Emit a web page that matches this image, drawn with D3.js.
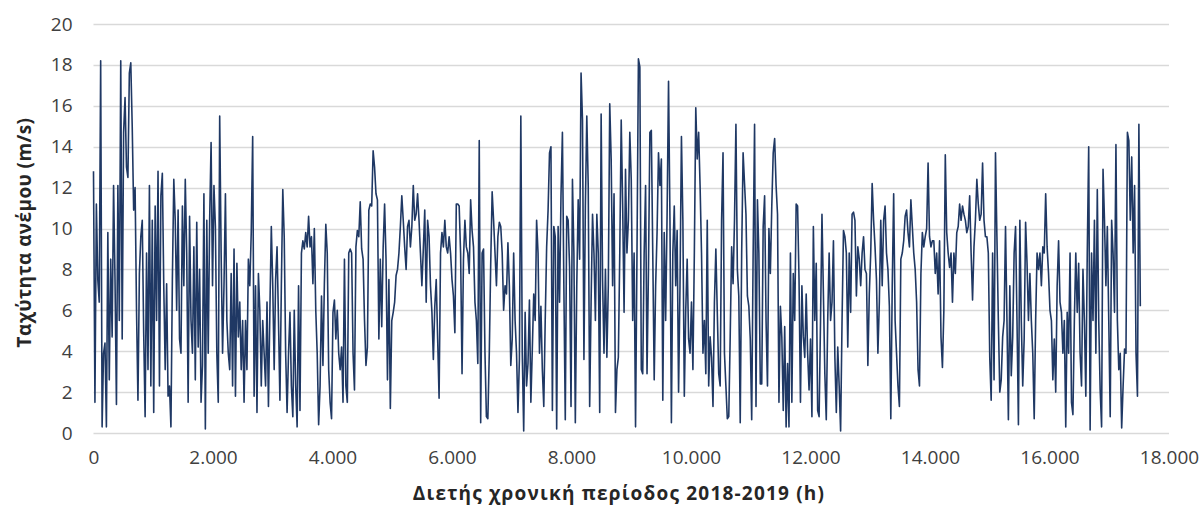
<!DOCTYPE html>
<html>
<head>
<meta charset="utf-8">
<script src="https://cdn.jsdelivr.net/npm/d3@7"></script>
<style>
  body { margin: 0; background: #ffffff; }
  svg { display: block; }
</style>
</head>
<body>
<svg id="chart" width="1204" height="505"></svg>
<script>
const STEP_H = 24;
const speedPart1 = [12.8, 1.5, 11.2, 7.5, 6.4, 18.2, 0.3, 3.9, 4.4, 0.3,
 9.8, 2.6, 8.5, 4.7, 12.1, 7.5, 1.4, 12.1, 5.5, 18.2,
 4.6, 14.7, 16.4, 13.0, 12.5, 17.6, 18.1, 15.0, 10.9, 12.0,
 6.0, 1.6, 7.8, 9.6, 10.4, 4.9, 0.8, 8.8, 3.1, 12.1,
 2.3, 10.4, 1.0, 11.1, 5.5, 12.8, 2.3, 11.6, 12.7, 7.2,
 3.1, 7.3, 1.8, 2.3, 0.3, 7.5, 12.4, 10.4, 6.0, 10.9,
 4.6, 3.9, 11.1, 7.2, 12.4, 8.8, 1.5, 10.6, 5.5, 3.9,
 9.1, 2.6, 10.3, 4.2, 8.0, 1.5, 3.3, 11.7, 0.2, 10.4,
 3.9, 10.4, 14.2, 7.2, 12.1, 10.1, 3.9, 1.5, 15.5, 8.8,
 3.9, 7.2, 11.7, 5.5, 3.9, 3.1, 7.8, 2.3, 9.0, 1.8,
 8.3, 4.7, 6.4, 3.1, 5.5, 1.5, 5.5, 3.1, 8.5, 7.2,
 9.8, 14.5, 1.8, 7.2, 1.0, 7.8, 6.0, 2.3, 5.5, 3.9,
 2.3, 6.4, 1.3, 6.0, 10.1, 7.2, 3.1, 7.5, 9.1, 5.5,
 1.6, 7.2, 11.9, 9.6, 3.9, 1.0, 3.9, 5.9, 2.3, 0.8,
 6.0, 2.3, 0.3, 7.2, 1.1, 8.8, 9.4];
const speedPart2 = [9.0, 9.8, 9.1, 10.6, 9.1, 9.6, 7.3, 10.0, 6.0, 3.9,
 0.4, 2.3, 6.7, 3.3, 7.3, 10.2, 8.8, 3.1, 1.5, 0.7,
 5.9, 6.5, 4.6, 6.0, 3.9, 3.1, 4.2, 1.5, 8.5, 2.3,
 1.5, 8.8, 9.0, 8.8, 3.9, 2.1, 9.1, 9.9, 9.6, 11.3,
 9.0, 8.5, 5.5, 3.3, 4.2, 10.9, 11.2, 11.1, 13.8, 13.0,
 11.7, 11.4, 4.6, 8.5, 5.2, 9.1, 11.2, 8.5, 2.6, 7.5,
 1.2, 5.5, 5.9, 6.4, 7.7, 8.0, 8.8, 10.1, 11.6, 10.4,
 9.1, 8.0, 10.1, 10.4, 9.1, 10.1, 12.1, 10.4, 10.7, 11.7,
 10.4, 8.8, 7.2, 9.0, 10.9, 6.4, 10.4, 9.6, 7.2, 5.9,
 3.6, 6.2, 7.5, 4.6, 1.7, 8.8, 9.8, 9.1, 10.4, 9.1,
 8.8, 9.6, 8.8, 7.5, 6.7, 4.9, 11.2, 11.2, 11.1, 8.8,
 2.9, 8.5, 10.4, 9.1, 8.8, 7.8, 11.4, 9.9, 9.1, 6.4,
 5.5, 3.4, 14.3, 0.5, 8.8, 9.0, 3.9, 0.8, 0.7, 3.9,
 8.3, 11.8, 10.4, 8.8, 7.2, 9.6, 10.3, 10.1, 8.8, 6.0,
 7.2, 6.8, 9.3, 7.2, 3.3, 4.6];
const speedPart3 = [8.8, 5.5, 3.9, 1.0, 3.6, 15.5, 3.9, 0.1, 5.9, 2.3,
 3.4, 6.5, 1.5, 4.1, 6.8, 5.5, 10.4, 8.8, 3.9, 6.2,
 3.1, 1.3, 5.5, 9.1, 10.9, 13.7, 14.0, 1.1, 10.1, 9.6,
 0.2, 10.1, 6.4, 11.6, 14.7, 7.2, 0.65, 10.6, 10.4, 8.1,
 1.3, 12.4, 8.8, 0.5, 7.2, 11.4, 8.5, 17.6, 15.3, 3.6,
 11.1, 15.5, 12.1, 1.3, 6.4, 10.7, 8.8, 5.5, 10.7, 8.8,
 1.0, 15.6, 7.5, 3.9, 8.0, 3.7, 7.2, 16.1, 13.4, 7.2,
 11.7, 1.0, 3.1, 3.7, 8.8, 15.3, 11.2, 5.9, 12.9, 8.8,
 10.4, 14.7, 12.4, 5.5, 8.8, 0.3, 8.8, 18.3, 17.9, 3.1,
 2.9, 8.8, 12.1, 2.9, 8.0, 14.7, 14.8, 8.8, 2.6, 7.2,
 9.8, 13.7, 12.1, 13.4, 1.6, 9.8, 5.5, 10.7, 17.2, 10.4,
 0.5, 8.8, 11.1, 7.2, 9.9, 2.0, 7.2, 14.5, 10.4, 1.8,
 6.0, 8.5, 4.6, 3.9, 6.4, 3.1, 8.8, 15.9, 13.4, 14.7,
 12.1, 8.8, 3.9, 5.5, 2.9, 10.4, 2.3, 4.7, 3.7, 1.3,
 6.4, 9.0, 5.9, 2.9, 2.3, 10.4, 13.7];
const speedPart4 = [3.9, 2.3, 0.7, 0.8, 4.7, 9.1, 7.3, 10.4, 15.1, 8.0,
 6.7, 0.5, 8.8, 13.7, 12.2, 10.7, 6.7, 6.2, 4.6, 0.65,
 8.8, 15.1, 1.3, 11.4, 8.8, 2.4, 2.4, 10.1, 11.6, 5.5,
 2.3, 10.0, 7.8, 11.1, 13.7, 14.4, 12.1, 10.7, 1.5, 6.2,
 4.7, 1.1, 5.2, 0.3, 3.4, 0.3, 8.8, 1.5, 7.8, 5.5,
 11.2, 11.1, 7.5, 1.5, 7.2, 4.7, 3.7, 6.8, 3.9, 2.1,
 4.6, 0.8, 10.1, 5.5, 8.3, 1.1, 0.8, 5.5, 10.7, 6.8,
 2.9, 0.65, 5.5, 8.8, 5.5, 6.4, 9.4, 3.7, 1.0, 4.2,
 2.3, 0.1, 5.5, 9.9, 9.6, 8.8, 4.2, 8.8, 5.9, 10.7,
 10.8, 10.4, 6.7, 9.1, 8.5, 7.2, 8.8, 9.6, 8.0, 7.8,
 3.3, 6.8, 8.8, 12.2, 10.4, 9.1, 7.5, 3.9, 6.4, 10.4,
 7.2, 10.4, 11.1, 8.8, 8.0, 6.2, 0.7, 7.2, 11.7, 5.5,
 3.9, 2.3, 1.3, 8.5, 8.8, 9.4, 10.6, 10.9, 9.8, 9.1,
 11.4, 10.1, 8.8, 8.0, 6.4, 3.1, 2.3, 7.8, 9.8, 9.1,
 9.6, 10.0, 13.2, 9.6, 9.1, 9.4];
const speedPart5 = [9.4, 7.8, 8.8, 6.8, 9.4, 4.7, 3.2, 6.0, 13.6, 9.8,
 8.8, 8.1, 8.8, 6.4, 8.8, 7.8, 9.8, 10.1, 11.2, 10.4,
 11.1, 10.7, 10.4, 9.8, 10.1, 11.6, 8.8, 6.5, 9.1, 10.4,
 12.4, 11.2, 10.4, 10.7, 13.2, 10.4, 9.6, 9.6, 8.8, 3.7,
 1.6, 8.8, 2.6, 13.7, 9.6, 5.5, 2.0, 2.6, 4.7, 5.5,
 10.1, 5.5, 0.65, 7.2, 2.8, 4.7, 8.8, 10.1, 5.5, 0.4,
 10.4, 5.5, 2.3, 4.6, 10.3, 8.3, 5.5, 7.8, 5.5, 3.9,
 0.7, 5.5, 8.8, 8.0, 8.8, 7.2, 9.1, 8.8, 11.7, 9.1,
 7.8, 6.0, 5.5, 2.6, 4.6, 2.0, 7.2, 9.4, 6.4, 5.9,
 3.9, 5.5, 0.3, 5.9, 3.9, 8.8, 1.5, 0.9, 5.5, 8.8,
 5.9, 8.3, 3.9, 2.3, 8.0, 5.5, 1.8, 8.8, 14.0, 0.15,
 8.8, 5.5, 10.4, 3.9, 11.9, 5.5, 2.1, 0.3, 12.9, 10.4,
 7.2, 10.1, 5.5, 0.8, 10.4, 8.8, 5.9, 14.1, 5.5, 3.1,
 3.9, 0.25, 2.3, 4.1, 3.9, 14.7, 14.3, 10.4, 13.5, 8.8,
 12.1, 3.9, 1.8, 15.1, 6.2];

const xTicks = [0, 2000, 4000, 6000, 8000, 10000, 12000, 14000, 16000, 18000];
const yTicks = [0, 2, 4, 6, 8, 10, 12, 14, 16, 18, 20];
const xTitle = "Διετής χρονική περίοδος 2018-2019 (h)";
const yTitle = "Ταχύτητα ανέμου (m/s)";

// ---- Build series ----
const speeds = [].concat(speedPart1, speedPart2, speedPart3, speedPart4, speedPart5);
const data = speeds.map((v, i) => ({ h: i * STEP_H, v: v }));

// ---- Layout ----
const svg = d3.select("#chart");
const plotL = 93.5, plotR = 1169, plotT = 24, plotB = 433;

const x = d3.scaleLinear().domain([0, 18000]).range([plotL, plotR]);
const y = d3.scaleLinear().domain([0, 20]).range([plotB, plotT]);

const loc = d3.formatLocale({ decimal: ",", thousands: ".", grouping: [3], currency: ["", "€"] });
const fmt = loc.format(",d");

const font = "'Open Sans', 'Noto Sans', sans-serif";

// gridlines
svg.append("g")
  .selectAll("line")
  .data(yTicks)
  .join("line")
  .attr("x1", plotL)
  .attr("x2", plotR)
  .attr("y1", d => Math.round(y(d)) + 0.5)
  .attr("y2", d => Math.round(y(d)) + 0.5)
  .attr("stroke", "#d9d9d9")
  .attr("stroke-width", 1.3);

// line
const line = d3.line().x(d => x(d.h)).y(d => y(d.v));
svg.append("path")
  .datum(data)
  .attr("fill", "none")
  .attr("stroke", "#1f3864")
  .attr("stroke-width", 1.6)
  .attr("stroke-linejoin", "round")
  .attr("d", line);

// y axis
const yAxis = svg.append("g")
  .attr("transform", `translate(${plotL - 21},0)`)
  .call(d3.axisLeft(y).tickValues(yTicks).tickSize(0).tickPadding(0).tickFormat(d3.format("d")));
yAxis.select(".domain").remove();
yAxis.selectAll("text")
  .attr("font-family", font)
  .attr("font-size", 19)
  .attr("fill", "#404040");

// x axis
const xAxis = svg.append("g")
  .attr("transform", `translate(0,${plotB + 17})`)
  .call(d3.axisBottom(x).tickValues(xTicks).tickSize(0).tickPadding(0).tickFormat(fmt));
xAxis.select(".domain").remove();
xAxis.selectAll("text")
  .attr("font-family", font)
  .attr("font-size", 19)
  .attr("fill", "#404040");

// titles
svg.append("text")
  .attr("x", 619)
  .attr("y", 500)
  .attr("text-anchor", "middle")
  .attr("font-family", font)
  .attr("font-size", 19)
  .attr("font-weight", "bold")
  .attr("letter-spacing", 1.2)
  .attr("fill", "#262626")
  .text(xTitle);

svg.append("text")
  .attr("transform", `translate(31,${(plotT + plotB) / 2 + 4}) rotate(-90)`)
  .attr("text-anchor", "middle")
  .attr("font-family", font)
  .attr("font-size", 19)
  .attr("font-weight", "bold")
  .attr("letter-spacing", 0.4)
  .attr("fill", "#262626")
  .text(yTitle);
</script>
</body>
</html>
